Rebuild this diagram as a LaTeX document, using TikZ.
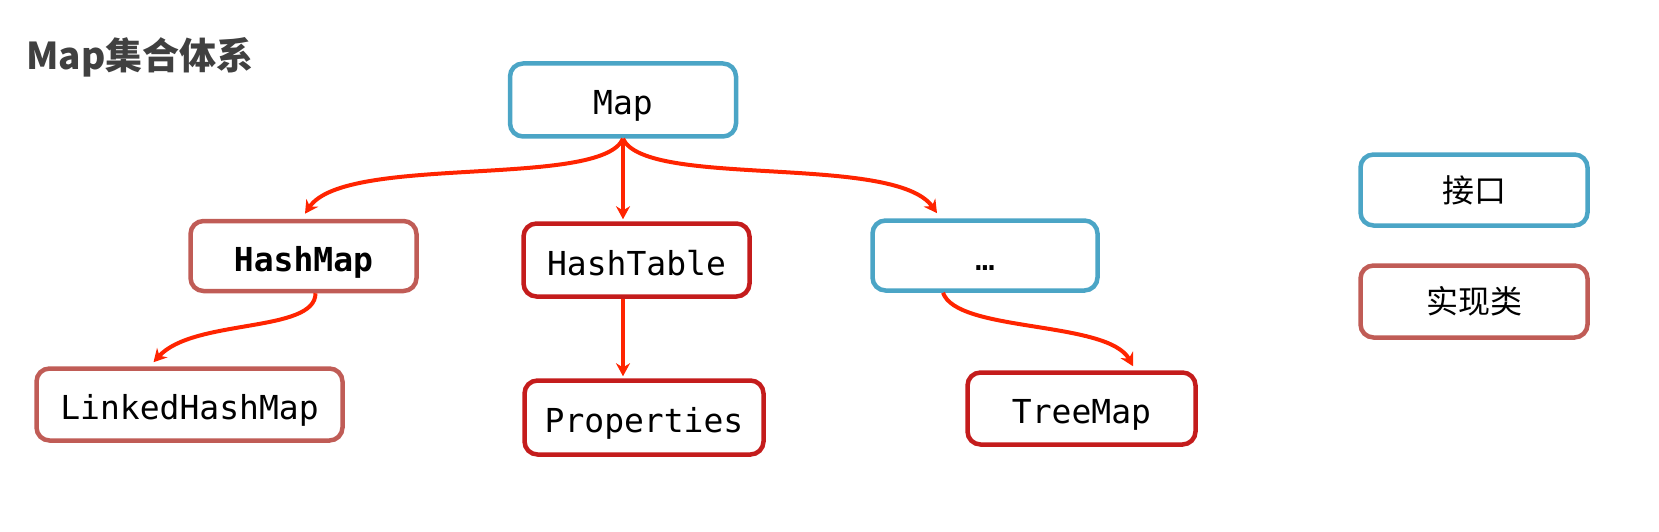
\documentclass[tikz,border=0pt]{standalone}
\usepackage{fontspec}
\setmonofont{DejaVu Sans Mono}
\newfontfamily\cjk{Noto Sans CJK SC}
\usetikzlibrary{arrows.meta}
\definecolor{ifblue}{RGB}{75,165,198}
\definecolor{implred}{RGB}{192,92,86}
\definecolor{darkred}{RGB}{196,28,28}
\definecolor{arrowred}{RGB}{255,36,0}
\definecolor{titlegray}{RGB}{64,64,64}
\begin{document}
\begin{tikzpicture}[x=1pt,y=-1pt,
  box/.style={draw, line width=4.5pt, rounded corners=13pt, fill=white, inner sep=0pt,
    font=\ttfamily\fontsize{33}{38}\selectfont, text height=32pt, text depth=2pt, align=center},
  iface/.style={box, draw=ifblue},
  impl/.style={box, draw=implred},
  impldark/.style={box, draw=darkred},
  legendtext/.style={font=\cjk\fontsize{32}{38}\selectfont, text height=28pt, text depth=4pt},
  conn/.style={draw=arrowred, line width=4pt, -{Stealth[length=13pt,width=14pt]}},
]
\useasboundingbox (0,0) rectangle (1659,532);

\node[anchor=base west, inner sep=0pt, text=titlegray, font=\cjk\bfseries\fontsize{37}{42}\selectfont] (title) at (26,70) {Map集合体系};

\node[iface, minimum width=226pt, minimum height=73pt] (map) at (623,100) {Map};
\node[impl, minimum width=226pt, minimum height=70pt, font=\ttfamily\bfseries\fontsize{33}{38}\selectfont] (hashmap) at (303.5,256) {HashMap};
\node[impldark, minimum width=226pt, minimum height=73pt] (hashtable) at (636.5,260) {HashTable};
\node[iface, minimum width=225pt, minimum height=70pt] (dots) at (985,255.5) {…};
\node[impl, minimum width=306pt, minimum height=72pt] (linked) at (189.5,404.5) {LinkedHashMap};
\node[impldark, minimum width=239pt, minimum height=74pt] (prop) at (644,417.5) {Properties};
\node[impldark, minimum width=228pt, minimum height=72pt] (tree) at (1081.5,408.5) {TreeMap};

\node[iface, minimum width=227pt, minimum height=71pt, legendtext] (legif) at (1474,190) {接口};
\node[impl, minimum width=227pt, minimum height=72pt, legendtext] (legimpl) at (1474,301.5) {实现类};

\draw[conn] (map.south) .. controls +(-22,50) and +(40,-60) .. ([xshift=1.5pt,yshift=5pt]hashmap.north);
\draw[conn] (map.south) .. controls +(23,50) and +(-42,-60) .. ([xshift=-48pt,yshift=5pt]dots.north);
\draw[conn] (map.south) -- ([yshift=2pt]map.south |- hashtable.north);
\draw[conn] (hashtable.south -| map.south) -- ([yshift=2pt]prop.north -| map.south);
\draw[conn] ([xshift=12pt]hashmap.south) .. controls +(0,40) and +(40,-44) .. ([xshift=-36pt,yshift=4pt]linked.north);
\draw[conn] ([xshift=-42pt]dots.south) .. controls +(14,40) and +(-25,-46) .. ([xshift=51.5pt,yshift=4pt]tree.north);
\end{tikzpicture}
\end{document}
